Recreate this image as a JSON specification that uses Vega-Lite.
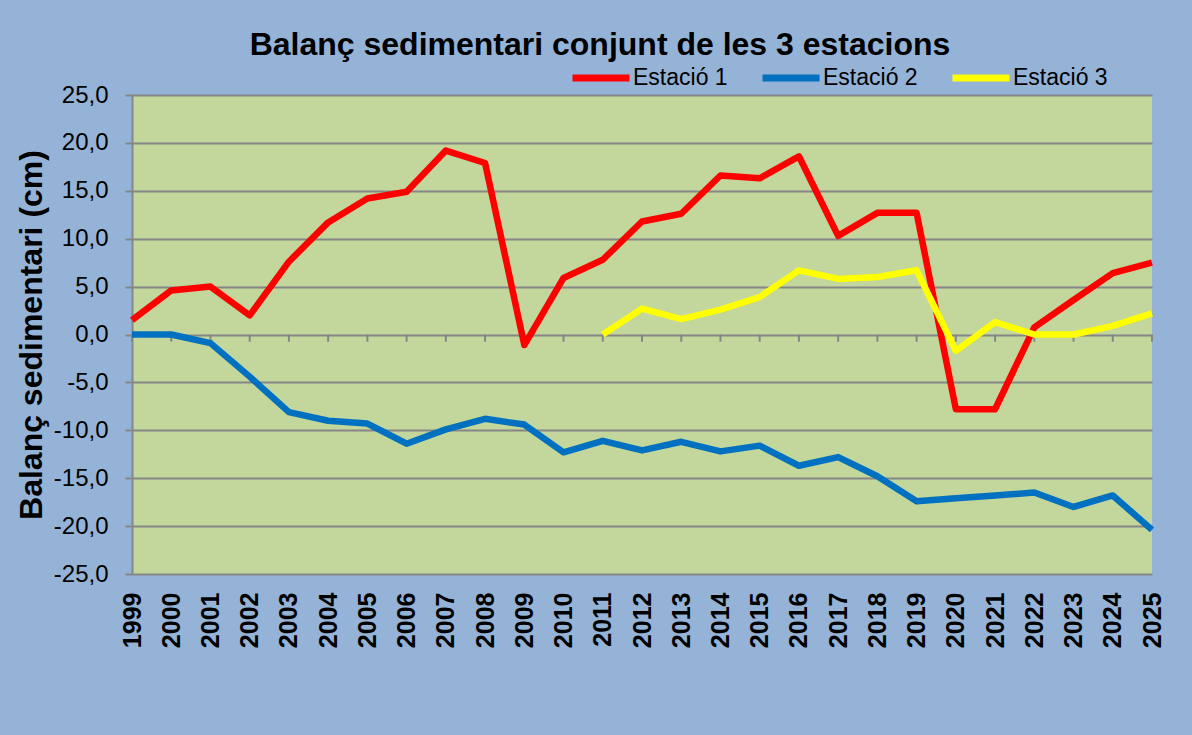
{
  "$schema": "https://vega.github.io/schema/vega-lite/v6.json",
  "width": 1020,
  "height": 479,
  "autosize": {"type": "none"},
  "padding": {"left": 132, "top": 95, "right": 40, "bottom": 161},
  "background": "#95B3D7",
  "config": {
    "font": "Liberation Sans",
    "view": {"fill": "#C3D69B", "stroke": null},
    "locale": {"number": {"decimal": ",", "thousands": ".", "grouping": [3], "currency": ["", " €"], "minus": "-"}},
    "axisY": {"grid": true, "gridColor": "#868686", "gridWidth": 2, "gridOpacity": 1}
  },
  "title": {
    "text": "Balanç sedimentari conjunt de les 3 estacions",
    "font": "Liberation Sans",
    "fontSize": 32,
    "fontWeight": "bold",
    "color": "#000000",
    "anchor": "middle",
    "frame": "group",
    "dx": -42,
    "dy": 18,
    "offset": 2
  },
  "data": {
    "values": [
      {"year": 1999, "serie": "Estació 1", "value": 1.5},
      {"year": 2000, "serie": "Estació 1", "value": 4.6},
      {"year": 2001, "serie": "Estació 1", "value": 5.0},
      {"year": 2002, "serie": "Estació 1", "value": 2.0},
      {"year": 2003, "serie": "Estació 1", "value": 7.6},
      {"year": 2004, "serie": "Estació 1", "value": 11.7},
      {"year": 2005, "serie": "Estació 1", "value": 14.2},
      {"year": 2006, "serie": "Estació 1", "value": 14.9},
      {"year": 2007, "serie": "Estació 1", "value": 19.2},
      {"year": 2008, "serie": "Estació 1", "value": 17.9},
      {"year": 2009, "serie": "Estació 1", "value": -1.1},
      {"year": 2010, "serie": "Estació 1", "value": 5.9},
      {"year": 2011, "serie": "Estació 1", "value": 7.8},
      {"year": 2012, "serie": "Estació 1", "value": 11.8},
      {"year": 2013, "serie": "Estació 1", "value": 12.6},
      {"year": 2014, "serie": "Estació 1", "value": 16.6},
      {"year": 2015, "serie": "Estació 1", "value": 16.3},
      {"year": 2016, "serie": "Estació 1", "value": 18.6},
      {"year": 2017, "serie": "Estació 1", "value": 10.3},
      {"year": 2018, "serie": "Estació 1", "value": 12.7},
      {"year": 2019, "serie": "Estació 1", "value": 12.7},
      {"year": 2020, "serie": "Estació 1", "value": -7.8},
      {"year": 2021, "serie": "Estació 1", "value": -7.8},
      {"year": 2022, "serie": "Estació 1", "value": 0.75},
      {"year": 2023, "serie": "Estació 1", "value": 3.6},
      {"year": 2024, "serie": "Estació 1", "value": 6.4},
      {"year": 2025, "serie": "Estació 1", "value": 7.5},
      {"year": 1999, "serie": "Estació 2", "value": 0.0},
      {"year": 2000, "serie": "Estació 2", "value": 0.0},
      {"year": 2001, "serie": "Estació 2", "value": -0.9},
      {"year": 2002, "serie": "Estació 2", "value": -4.4},
      {"year": 2003, "serie": "Estació 2", "value": -8.1},
      {"year": 2004, "serie": "Estació 2", "value": -9.0},
      {"year": 2005, "serie": "Estació 2", "value": -9.3},
      {"year": 2006, "serie": "Estació 2", "value": -11.4},
      {"year": 2007, "serie": "Estació 2", "value": -9.9},
      {"year": 2008, "serie": "Estació 2", "value": -8.8},
      {"year": 2009, "serie": "Estació 2", "value": -9.4},
      {"year": 2010, "serie": "Estació 2", "value": -12.3},
      {"year": 2011, "serie": "Estació 2", "value": -11.1},
      {"year": 2012, "serie": "Estació 2", "value": -12.1},
      {"year": 2013, "serie": "Estació 2", "value": -11.2},
      {"year": 2014, "serie": "Estació 2", "value": -12.2},
      {"year": 2015, "serie": "Estació 2", "value": -11.6},
      {"year": 2016, "serie": "Estació 2", "value": -13.7},
      {"year": 2017, "serie": "Estació 2", "value": -12.8},
      {"year": 2018, "serie": "Estació 2", "value": -14.8},
      {"year": 2019, "serie": "Estació 2", "value": -17.4},
      {"year": 2020, "serie": "Estació 2", "value": -17.1},
      {"year": 2021, "serie": "Estació 2", "value": -16.8},
      {"year": 2022, "serie": "Estació 2", "value": -16.5},
      {"year": 2023, "serie": "Estació 2", "value": -18.0},
      {"year": 2024, "serie": "Estació 2", "value": -16.8},
      {"year": 2025, "serie": "Estació 2", "value": -20.4},
      {"year": 2011, "serie": "Estació 3", "value": 0.0},
      {"year": 2012, "serie": "Estació 3", "value": 2.7},
      {"year": 2013, "serie": "Estació 3", "value": 1.6},
      {"year": 2014, "serie": "Estació 3", "value": 2.6},
      {"year": 2015, "serie": "Estació 3", "value": 3.9},
      {"year": 2016, "serie": "Estació 3", "value": 6.7},
      {"year": 2017, "serie": "Estació 3", "value": 5.8},
      {"year": 2018, "serie": "Estació 3", "value": 6.0},
      {"year": 2019, "serie": "Estació 3", "value": 6.7},
      {"year": 2020, "serie": "Estació 3", "value": -1.7},
      {"year": 2021, "serie": "Estació 3", "value": 1.3},
      {"year": 2022, "serie": "Estació 3", "value": 0.0},
      {"year": 2023, "serie": "Estació 3", "value": 0.0},
      {"year": 2024, "serie": "Estació 3", "value": 0.9},
      {"year": 2025, "serie": "Estació 3", "value": 2.2}
    ]
  },
  "encoding": {
    "x": {
      "field": "year",
      "type": "ordinal",
      "scale": {"type": "point", "padding": 0},
      "axis": {
        "title": null,
        "labelAngle": -90,
        "labelFont": "Liberation Sans",
        "labelFontSize": 25,
        "labelFontWeight": "bold",
        "labelColor": "#000000",
        "labelPadding": 18,
        "ticks": false,
        "domain": false,
        "grid": false
      }
    }
  },
  "layer": [
    {
      "transform": [{"filter": "datum.serie === 'Estació 1'"}],
      "mark": {"type": "rule", "color": "#868686", "strokeWidth": 2},
      "encoding": {
        "y": {
          "datum": 0,
          "type": "quantitative",
          "scale": {"domain": [-25, 25], "nice": false},
          "axis": {
            "title": "Balanç sedimentari (cm)",
            "titleFont": "Liberation Sans",
            "titleFontSize": 32,
            "titleFontWeight": "bold",
            "titleColor": "#000000",
            "titlePadding": 5,
            "values": [-25, -20, -15, -10, -5, 0, 5, 10, 15, 20, 25],
            "format": ".1f",
            "labelFont": "Liberation Sans",
            "labelFontSize": 24,
            "labelColor": "#000000",
            "labelPadding": 17,
            "tickSize": 7,
            "tickColor": "#868686",
            "tickWidth": 2,
            "domainColor": "#868686",
            "domainWidth": 2,
            "grid": true,
            "gridColor": "#868686",
            "gridWidth": 2,
            "gridOpacity": 1
          }
        },
        "y2": {"datum": -0.75}
      }
    },
    {
      "mark": {"type": "line", "strokeWidth": 6.5, "strokeJoin": "round", "strokeCap": "butt"},
      "encoding": {
        "y": {
          "field": "value",
          "type": "quantitative",
          "scale": {"domain": [-25, 25], "nice": false},
          "axis": {
            "title": "Balanç sedimentari (cm)",
            "titleFont": "Liberation Sans",
            "titleFontSize": 32,
            "titleFontWeight": "bold",
            "titleColor": "#000000",
            "titlePadding": 5,
            "values": [-25, -20, -15, -10, -5, 0, 5, 10, 15, 20, 25],
            "format": ".1f",
            "labelFont": "Liberation Sans",
            "labelFontSize": 24,
            "labelColor": "#000000",
            "labelPadding": 17,
            "tickSize": 7,
            "tickColor": "#868686",
            "tickWidth": 2,
            "domainColor": "#868686",
            "domainWidth": 2,
            "grid": true,
            "gridColor": "#868686",
            "gridWidth": 2,
            "gridOpacity": 1
          }
        },
        "color": {
          "field": "serie",
          "type": "nominal",
          "scale": {"domain": ["Estació 1", "Estació 2", "Estació 3"], "range": ["#FF0000", "#0070C0", "#FFFF00"]},
          "legend": {
            "title": null,
            "orient": "none",
            "legendX": 437,
            "legendY": -49,
            "direction": "horizontal",
            "symbolType": "stroke",
            "symbolSize": 3249,
            "symbolStrokeWidth": 7,
            "labelFont": "Liberation Sans",
            "labelFontSize": 23,
            "labelColor": "#000000",
            "labelOffset": 0,
            "columnPadding": 20
          }
        }
      }
    }
  ]
}
